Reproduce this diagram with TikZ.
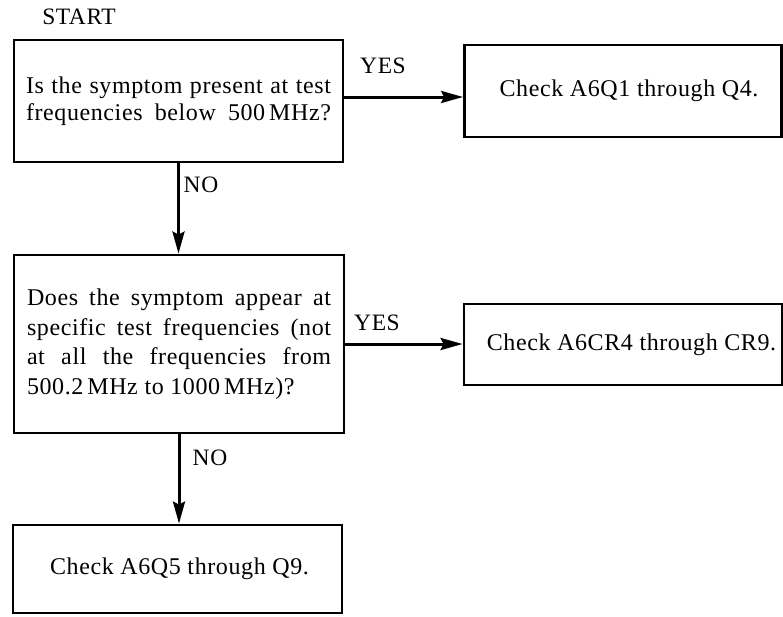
\documentclass[tikz,border=0pt]{standalone}
\usepackage{fontspec}
\setmainfont{Liberation Serif}[LetterSpace=2.5]
\usetikzlibrary{arrows.meta}
\begin{document}
\begin{tikzpicture}[x=1pt,y=-1pt,
  box/.style={draw, line width=2.8pt, inner sep=0pt, font=\fontsize{24}{27}\selectfont},
  arr/.style={line width=3pt, -{Stealth[length=22pt,width=12pt,inset=3pt]}},
  lbl/.style={inner sep=0pt, font=\fontsize{23.5}{27}\selectfont}]
\useasboundingbox (0,0) rectangle (783,616);

\node[lbl] (start) at (79,17) {START};

\node[box, minimum width=329pt, minimum height=122pt, align=left] (b1) at (178.5,101)
  {\makebox[305pt][s]{Is the symptom present at test}\\
   \makebox[305pt][s]{frequencies below 500\,MHz?}};

\node[box, minimum width=317pt, minimum height=92pt] (b2) at (623,91)
  {\hspace*{12pt}Check A6Q1 through Q4.};

\node[box, minimum width=330pt, minimum height=178pt, align=left,
      font=\fontsize{24}{29.5}\selectfont] (b3) at (179,344)
  {\makebox[304pt][s]{Does the symptom appear at}\\
   \makebox[304pt][s]{specific test frequencies (not}\\
   \makebox[304pt][s]{at all the frequencies from}\\
   500.2\,MHz to 1000\,MHz)?};

\node[box, minimum width=318pt, minimum height=81pt] (b4) at (623,344.5)
  {\hspace*{17pt}Check A6CR4 through CR9.};

\node[box, minimum width=329pt, minimum height=88pt] (b5) at (177.5,569)
  {\hspace*{4pt}Check A6Q5 through Q9.};

\draw[arr] ([yshift=4pt]b1.east) -- ([yshift=4pt]b1.east -| b2.west);
\draw[arr] (b1.south) -- (b1.south |- b3.north);
\draw[arr] (b3.east) -- (b3.east -| b4.west);
\draw[arr] (b3.south) -- (b3.south |- b5.north);

\node[lbl] (yes1) at (383,66) {YES};
\node[lbl] (no1) at (201,185) {NO};
\node[lbl] (yes2) at (377,323) {YES};
\node[lbl] (no2) at (210,458) {NO};
\end{tikzpicture}
\end{document}
